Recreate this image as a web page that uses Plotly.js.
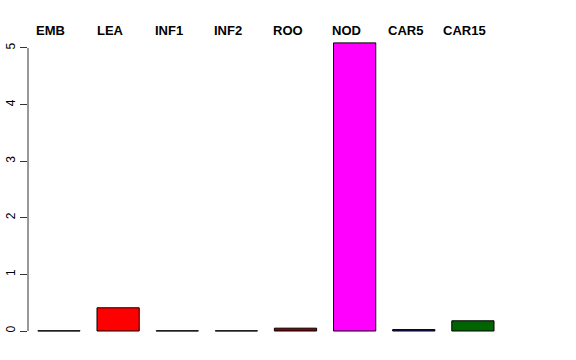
<!DOCTYPE html>
<html>
<head>
<meta charset="utf-8">
<script src="https://cdn.plot.ly/plotly-3.0.1.min.js"></script>
<style>html,body{margin:0;padding:0;background:#fff;}#chart{width:576px;height:360px;}</style>
</head>
<body>
<div id="chart"></div>
<script>
const categories = ["EMB", "LEA", "INF1", "INF2", "ROO", "NOD", "CAR5", "CAR15"];
const values = [0.004, 0.41, 0.004, 0.004, 0.05, 5.09, 0.025, 0.18];
const barColors = ["#bebebe", "#ff0000", "#bebebe", "#bebebe", "#8b0000", "#ff00ff", "#191970", "#006400"];
const yTicks = [0, 1, 2, 3, 4, 5];

const idx = categories.map((c, i) => i);

const trace = {
  type: "bar",
  x: idx,
  y: values,
  width: 0.714,
  marker: { color: barColors, line: { color: "#000", width: 1 } },
  hoverinfo: "skip"
};

const annotations = categories.map((c, i) => ({
  x: i, xref: "x", xshift: -8,
  y: 1.033, yref: "paper", yanchor: "middle",
  text: "<b>" + c + "</b>", showarrow: false,
  font: { family: "Liberation Sans, Arial, sans-serif", size: 13, color: "#000" }
}));

const layout = {
  width: 576, height: 360,
  margin: { l: 28, r: 28, t: 40, b: 20, pad: 0 },
  paper_bgcolor: "#fff", plot_bgcolor: "#fff",
  showlegend: false,
  xaxis: { range: [-0.524, 8.27], showgrid: false, zeroline: false, showline: false, showticklabels: false, ticks: "", fixedrange: true },
  yaxis: {
    range: [-0.159, 5.141], showgrid: false, zeroline: false, showline: false,
    tickmode: "array", tickvals: yTicks, ticktext: yTicks.map(String),
    ticks: "outside", ticklen: 7, tickwidth: 1, tickcolor: "#333",
    tickangle: -90, tickfont: { family: "Liberation Sans, Arial, sans-serif", size: 12, color: "#000" },
    fixedrange: true
  },
  shapes: [{
    type: "line", xref: "paper", x0: 0, x1: 0, yref: "y", y0: yTicks[0], y1: yTicks[yTicks.length - 1],
    line: { color: "#333", width: 1 }
  }],
  annotations: annotations
};

Plotly.newPlot("chart", [trace], layout, { displayModeBar: false, staticPlot: true });
</script>
</body>
</html>
